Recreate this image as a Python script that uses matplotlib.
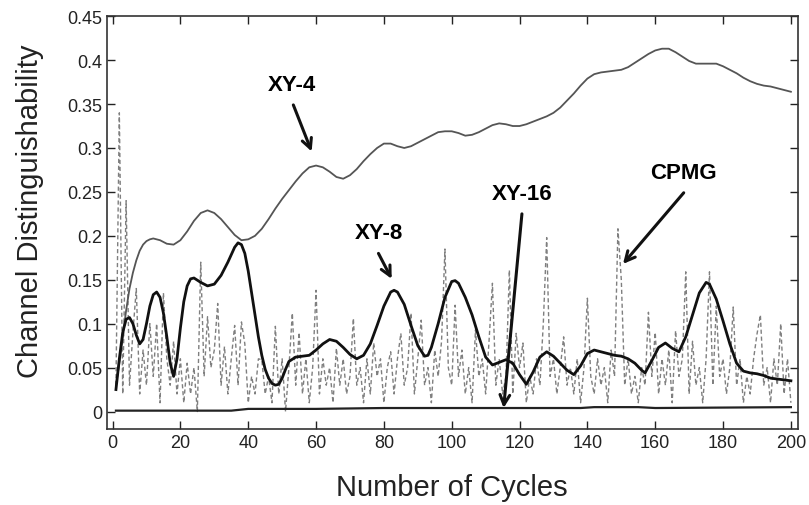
import matplotlib
matplotlib.use("Agg")
import matplotlib.pyplot as plt
import numpy as np
from matplotlib.ticker import FormatStrFormatter

plt.rcParams['font.family'] = ['Liberation Sans', 'DejaVu Sans']

# XY-4 (thin grey curve)
xy4_x = [1, 2, 3, 4, 5, 6, 7, 8, 9, 10, 11, 12, 14, 16, 18, 20, 22, 24, 26, 28,
         30, 32, 34, 36, 38, 40, 42, 44, 46, 48, 50, 52, 54, 56, 58, 60, 62, 64,
         66, 68, 70, 72, 74, 76, 78, 80, 82, 84, 86, 88, 90, 92, 94, 96, 98, 100,
         102, 104, 106, 108, 110, 112, 114, 116, 118, 120, 122, 124, 126, 128,
         130, 132, 134, 136, 138, 140, 142, 144, 146, 148, 150, 152, 154, 156,
         158, 160, 162, 164, 166, 168, 170, 172, 174, 176, 178, 180, 182, 184,
         186, 188, 190, 192, 194, 196, 198, 200]
xy4_y = [0.03, 0.055, 0.085, 0.115, 0.14, 0.158, 0.172, 0.183, 0.19, 0.194, 0.196,
         0.197, 0.195, 0.191, 0.19, 0.195, 0.205, 0.217, 0.226, 0.229, 0.226, 0.219,
         0.21, 0.201, 0.195, 0.196, 0.2, 0.208, 0.219, 0.231, 0.242, 0.252, 0.262,
         0.271, 0.278, 0.28, 0.278, 0.273, 0.267, 0.265, 0.269, 0.276, 0.285, 0.293,
         0.3, 0.305, 0.305, 0.302, 0.3, 0.302, 0.306, 0.31, 0.314, 0.318, 0.319,
         0.319, 0.317, 0.314, 0.315, 0.318, 0.322, 0.326, 0.328, 0.327, 0.325,
         0.325, 0.327, 0.33, 0.333, 0.336, 0.34, 0.346, 0.354, 0.362, 0.371, 0.379,
         0.384, 0.386, 0.387, 0.388, 0.389, 0.392, 0.397, 0.402, 0.407, 0.411,
         0.413, 0.413, 0.409, 0.404, 0.399, 0.396, 0.396, 0.396, 0.396, 0.393,
         0.389, 0.385, 0.38, 0.376, 0.373, 0.371, 0.37, 0.368, 0.366, 0.364]

# XY-8 (thick black curve)
xy8_x = [1, 2, 3, 4, 5, 6, 7, 8, 9, 10, 11, 12, 13, 14, 15, 16, 17, 18, 19, 20,
         21, 22, 23, 24, 26, 28, 30, 32, 34, 36, 37, 38, 39, 40, 41, 42, 43, 44,
         45, 46, 47, 48, 49, 50, 51, 52, 54, 56, 58, 60, 62, 64, 66, 68, 70, 72,
         74, 76, 78, 80, 82, 83, 84, 86, 88, 90, 92, 93, 94, 96, 98, 100, 101, 102,
         104, 106, 108, 110, 112, 114, 116, 118, 120, 122, 124, 126, 128, 130, 132,
         134, 136, 138, 140, 142, 144, 146, 148, 150, 152, 154, 156, 157, 159, 161,
         163, 165, 167, 169, 171, 173, 175, 176, 178, 180, 182, 184, 186, 188, 190,
         192, 194, 196, 198, 200]
xy8_y = [0.025, 0.06, 0.09, 0.105, 0.107, 0.1, 0.087, 0.077, 0.082, 0.1, 0.12, 0.133,
         0.136, 0.13, 0.112, 0.085, 0.055, 0.04, 0.06, 0.095, 0.125, 0.143, 0.151,
         0.152, 0.147, 0.143, 0.145, 0.155, 0.17, 0.187, 0.192, 0.19, 0.18, 0.16,
         0.135, 0.11, 0.085, 0.064, 0.048, 0.038, 0.032, 0.03, 0.031, 0.038, 0.048,
         0.057, 0.062, 0.063, 0.064, 0.07, 0.077, 0.082, 0.08, 0.073, 0.065, 0.06,
         0.064, 0.077, 0.098, 0.12, 0.136, 0.138, 0.136, 0.122, 0.098, 0.075, 0.063,
         0.064, 0.073, 0.1, 0.13, 0.148, 0.149, 0.146, 0.13, 0.11, 0.085, 0.062,
         0.053, 0.056, 0.059, 0.055, 0.042, 0.031, 0.045, 0.062, 0.068, 0.063, 0.055,
         0.047, 0.042, 0.052, 0.066, 0.07, 0.068, 0.066, 0.064, 0.063, 0.06, 0.055,
         0.047, 0.044, 0.058, 0.073, 0.078, 0.072, 0.068, 0.085, 0.11, 0.135, 0.147,
         0.145, 0.128, 0.103, 0.077, 0.055, 0.046, 0.044, 0.043, 0.041, 0.038, 0.037,
         0.036, 0.035]

# XY-16 (flat black line near zero)
xy16_x = [1, 35, 40, 60, 80, 138, 142, 155, 160, 200]
xy16_y = [0.001, 0.001, 0.003, 0.003, 0.004, 0.004, 0.005, 0.005, 0.004, 0.005]

# CPMG (grey dashed, one value per cycle)
cpmg_y = [
    0.03, 0.34, 0.02, 0.24, 0.03, 0.09, 0.14, 0.02, 0.07, 0.03,
    0.10, 0.04, 0.10, 0.01, 0.135, 0.06, 0.03, 0.08, 0.02, 0.06,
    0.01, 0.055, 0.02, 0.05, 0.00, 0.17, 0.04, 0.108, 0.05, 0.07,
    0.123, 0.03, 0.074, 0.02, 0.06, 0.098, 0.03, 0.102, 0.077, 0.01,
    0.04, 0.02, 0.06, 0.059, 0.02, 0.04, 0.01, 0.097, 0.02, 0.06,
    0.00, 0.05, 0.112, 0.03, 0.09, 0.02, 0.06, 0.01, 0.05, 0.138,
    0.02, 0.06, 0.03, 0.05, 0.01, 0.072, 0.03, 0.06, 0.02, 0.04,
    0.106, 0.03, 0.05, 0.01, 0.06, 0.02, 0.078, 0.04, 0.06, 0.01,
    0.05, 0.068, 0.02, 0.06, 0.089, 0.03, 0.05, 0.112, 0.02, 0.06,
    0.104, 0.03, 0.05, 0.01, 0.07, 0.04, 0.08, 0.185, 0.05, 0.03,
    0.121, 0.04, 0.07, 0.02, 0.05, 0.01, 0.093, 0.04, 0.06, 0.02,
    0.08, 0.146, 0.03, 0.06, 0.02, 0.04, 0.161, 0.02, 0.089, 0.05,
    0.078, 0.01, 0.04, 0.02, 0.06, 0.03, 0.10, 0.198, 0.04, 0.06,
    0.02, 0.05, 0.085, 0.03, 0.05, 0.02, 0.06, 0.01, 0.05, 0.129,
    0.04, 0.02, 0.06, 0.03, 0.05, 0.01, 0.07, 0.04, 0.208, 0.15,
    0.03, 0.06, 0.02, 0.04, 0.01, 0.05, 0.03, 0.113, 0.04, 0.09,
    0.02, 0.06, 0.03, 0.07, 0.01, 0.092, 0.04, 0.06, 0.159, 0.02,
    0.08, 0.03, 0.05, 0.01, 0.06, 0.159, 0.03, 0.12, 0.04, 0.06,
    0.02, 0.05, 0.119, 0.03, 0.06, 0.01, 0.04, 0.02, 0.06, 0.088,
    0.110, 0.03, 0.05, 0.01, 0.06, 0.03, 0.100, 0.02, 0.06, 0.01,
]
cpmg_x = list(range(1, len(cpmg_y) + 1))

xticks = [0, 20, 40, 60, 80, 100, 120, 140, 160, 180, 200]
yticks = [0, 0.05, 0.1, 0.15, 0.2, 0.25, 0.3, 0.35, 0.4, 0.45]

fig = plt.figure(figsize=(8.09, 5.06), dpi=100)
ax = fig.add_axes([0.132, 0.150, 0.854, 0.816])

ax.plot(cpmg_x, cpmg_y, color='#7f7f7f', linestyle='--', linewidth=1.0, dashes=(3, 2))
ax.plot(xy16_x, xy16_y, color='#222222', linewidth=1.6)
ax.plot(xy4_x, xy4_y, color='#555555', linewidth=1.3)
ax.plot(xy8_x, xy8_y, color='#111111', linewidth=2.0)

ax.set_xlim(-1.7, 202)
ax.set_ylim(-0.02, 0.45)
ax.set_xticks(xticks)
ax.set_yticks(yticks)
ax.yaxis.set_major_formatter(FormatStrFormatter('%g'))
ax.tick_params(direction='in', top=True, right=True, length=6, width=1,
               labelsize=13, colors='#222222')
for s in ax.spines.values():
    s.set_linewidth(1.2)
    s.set_color('#333333')

ax.set_xlabel('Number of Cycles', fontsize=21, labelpad=16, color='#222222')
ax.set_ylabel('Channel Distinguishability', fontsize=21, color='#222222')
ax.yaxis.set_label_coords(-0.091, 0.53)

arrow = dict(arrowstyle='->,head_width=0.35,head_length=0.7', lw=2.2, color='#111111',
             shrinkA=0, shrinkB=0)
ax.annotate('', xy=(58.7, 0.296), xytext=(53.3, 0.349), arrowprops=arrow)
ax.text(52.8, 0.372, 'XY-4', fontsize=16, fontweight='bold', ha='center', va='center')
ax.annotate('', xy=(82.3, 0.151), xytext=(78.4, 0.18), arrowprops=arrow)
ax.text(78.4, 0.204, 'XY-8', fontsize=16, fontweight='bold', ha='center', va='center')
ax.annotate('', xy=(115.3, 0.004), xytext=(120.7, 0.225), arrowprops=arrow)
ax.text(120.7, 0.248, 'XY-16', fontsize=16, fontweight='bold', ha='center', va='center')
ax.annotate('', xy=(150.5, 0.168), xytext=(168.4, 0.249), arrowprops=arrow)
ax.text(168.4, 0.272, 'CPMG', fontsize=16, fontweight='bold', ha='center', va='center')

fig.savefig('out.png', dpi=100)
